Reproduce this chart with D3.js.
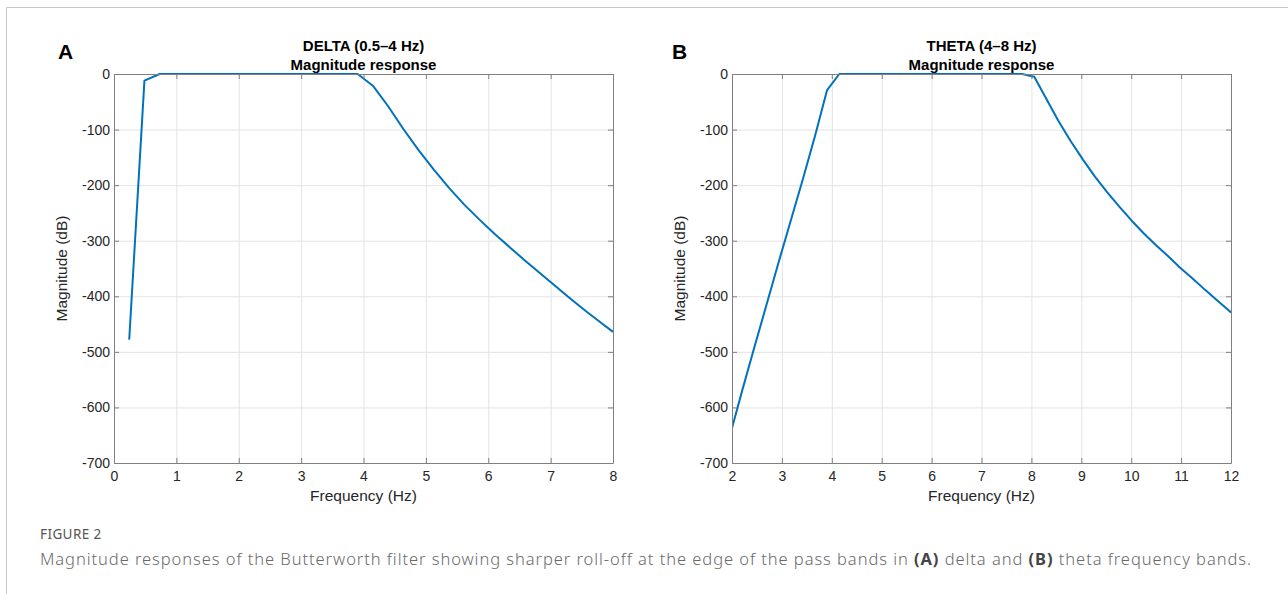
<!DOCTYPE html>
<html>
<head>
<meta charset="utf-8">
<script src="https://cdn.jsdelivr.net/npm/d3@7/dist/d3.min.js"></script>
<style>
  html, body { margin: 0; padding: 0; background: #fff; }
  svg { display: block; }
  .tick text { font-family: "Liberation Sans", Arial, Helvetica, sans-serif; }
</style>
</head>
<body>
<svg id="fig" width="1288" height="594"></svg>
<script>
// Delta band (0.5–4 Hz) magnitude response, frequency in Hz and magnitude in dB
const freqA = [0.244, 0.488, 0.732, 3.906, 4.150, 4.395, 4.639, 4.883, 5.127, 5.371, 5.615, 5.859, 6.104, 6.348, 6.592, 6.836, 7.080, 7.324, 7.568, 7.813, 8.0];
const magA  = [-478, -12, 0, 0, -21, -58, -99, -137, -172, -205, -235, -262, -288, -312, -336, -359, -382, -405, -427, -448, -464];

// Theta band (4–8 Hz) magnitude response
const freqB = [2.0, 2.197, 2.441, 2.686, 2.930, 3.174, 3.418, 3.662, 3.906, 4.150, 7.813, 8.057, 8.301, 8.545, 8.789, 9.033, 9.277, 9.521, 9.766, 10.010, 10.254, 10.498, 10.742, 10.986, 11.230, 11.475, 11.719, 11.963, 12.0];
const magB  = [-637, -572, -494, -417, -340, -265, -190, -112, -29, 0, 0, -5, -45, -85, -121, -154, -185, -213, -239, -264, -287, -308, -328, -349, -368, -388, -407, -426, -429];

// Axis ticks
const xTicksA = [0, 1, 2, 3, 4, 5, 6, 7, 8];
const xTicksB = [2, 3, 4, 5, 6, 7, 8, 9, 10, 11, 12];
const yTicks  = [0, -100, -200, -300, -400, -500, -600, -700];

const panelLetters = ["A", "B"];
const titles = [["DELTA (0.5–4 Hz)", "Magnitude response"], ["THETA (4–8 Hz)", "Magnitude response"]];
const xLabel = "Frequency (Hz)";
const yLabel = "Magnitude (dB)";

const svg = d3.select("#fig");
const FONT = '"Liberation Sans", Arial, Helvetica, sans-serif';
const AXIS_COLOR = "#808080";
const GRID_COLOR = "#e3e3e3";
const LINE_COLOR = "#0072BD";
const TEXT_COLOR = "#262626";

// Outer frame (top and left rules)
svg.append("line").attr("x1", 6.5).attr("x2", 1288).attr("y1", 7.5).attr("y2", 7.5)
  .attr("stroke", "#c8c8c8").attr("stroke-width", 1);
svg.append("line").attr("x1", 6.5).attr("x2", 6.5).attr("y1", 7.5).attr("y2", 594)
  .attr("stroke", "#c8c8c8").attr("stroke-width", 1);

const panels = [
  { left: 114, right: 613, xDomain: [0, 8], xTicks: xTicksA, freq: freqA, mag: magA, letterX: 58, yLabelX: 67 },
  { left: 732, right: 1231, xDomain: [2, 12], xTicks: xTicksB, freq: freqB, mag: magB, letterX: 672, yLabelX: 685 }
];
const plotTop = 74, plotBottom = 463;

panels.forEach((p, i) => {
  const x = d3.scaleLinear().domain(p.xDomain).range([p.left, p.right]);
  const y = d3.scaleLinear().domain([-700, 0]).range([plotBottom, plotTop]);
  const g = svg.append("g");
  const w = p.right - p.left, h = plotBottom - plotTop;

  // grid
  g.append("g").attr("transform", `translate(0,${plotBottom})`)
    .call(d3.axisBottom(x).tickValues(p.xTicks).tickSize(-h).tickFormat(""))
    .call(s => s.select(".domain").remove())
    .call(s => s.selectAll("line").attr("stroke", GRID_COLOR));
  g.append("g").attr("transform", `translate(${p.left},0)`)
    .call(d3.axisLeft(y).tickValues(yTicks).tickSize(-w).tickFormat(""))
    .call(s => s.select(".domain").remove())
    .call(s => s.selectAll("line").attr("stroke", GRID_COLOR));

  // clip region for the response curve
  const clipId = "clip" + i;
  svg.append("clipPath").attr("id", clipId).append("rect")
    .attr("x", p.left).attr("y", plotTop - 1).attr("width", w).attr("height", h + 2);

  const pts = p.freq.map((f, k) => [f, p.mag[k]]);
  g.append("path").datum(pts)
    .attr("clip-path", `url(#${clipId})`)
    .attr("fill", "none").attr("stroke", LINE_COLOR).attr("stroke-width", 2)
    .attr("stroke-linejoin", "round")
    .attr("d", d3.line().x(d => x(d[0])).y(d => y(d[1])));

  // axes with inward ticks on all four sides
  const styleAxis = s => {
    s.select(".domain").attr("stroke", AXIS_COLOR);
    s.selectAll(".tick line").attr("stroke", AXIS_COLOR);
    s.selectAll(".tick text").attr("fill", TEXT_COLOR).style("font-size", "14px");
  };
  g.append("g").attr("transform", `translate(0,${plotBottom})`)
    .call(d3.axisBottom(x).tickValues(p.xTicks).tickSizeInner(-5).tickSizeOuter(0).tickPadding(8).tickFormat(d3.format("d")))
    .call(styleAxis);
  g.append("g").attr("transform", `translate(0,${plotTop})`)
    .call(d3.axisTop(x).tickValues(p.xTicks).tickSizeInner(-5).tickSizeOuter(0).tickFormat(""))
    .call(styleAxis);
  g.append("g").attr("transform", `translate(${p.left},0)`)
    .call(d3.axisLeft(y).tickValues(yTicks).tickSizeInner(-5).tickSizeOuter(0).tickPadding(4).tickFormat(d => String(d)))
    .call(styleAxis);
  g.append("g").attr("transform", `translate(${p.right},0)`)
    .call(d3.axisRight(y).tickValues(yTicks).tickSizeInner(-5).tickSizeOuter(0).tickFormat(""))
    .call(styleAxis);

  // axis labels
  const cx = (p.left + p.right) / 2;
  g.append("text").attr("x", cx).attr("y", 501).attr("text-anchor", "middle")
    .attr("font-family", FONT).attr("font-size", 15.5).attr("fill", TEXT_COLOR).text(xLabel);
  g.append("text").attr("transform", `translate(${p.yLabelX},${(plotTop + plotBottom) / 2}) rotate(-90)`)
    .attr("text-anchor", "middle").attr("font-family", FONT).attr("font-size", 15.5)
    .attr("fill", TEXT_COLOR).text(yLabel);

  // titles
  g.append("text").attr("x", cx).attr("y", 51).attr("text-anchor", "middle")
    .attr("font-family", FONT).attr("font-size", 15).attr("font-weight", "bold")
    .attr("fill", "#000").text(titles[i][0]);
  g.append("text").attr("x", cx).attr("y", 70).attr("text-anchor", "middle")
    .attr("font-family", FONT).attr("font-size", 15).attr("font-weight", "bold")
    .attr("fill", "#000").text(titles[i][1]);

  // panel letter
  g.append("text").attr("x", p.letterX).attr("y", 59)
    .attr("font-family", FONT).attr("font-size", 21).attr("font-weight", "bold")
    .attr("fill", "#000").text(panelLetters[i]);
});

// Caption
const CAP_FONT = '"Noto Sans", "Open Sans", sans-serif';
svg.append("text").attr("x", 40).attr("y", 539)
  .attr("font-family", CAP_FONT).attr("font-size", 13.5).attr("letter-spacing", 0.4)
  .attr("fill", "#555").text("FIGURE 2");

const cap = svg.append("text").attr("x", 40).attr("y", 565)
  .attr("font-family", CAP_FONT).attr("font-size", 16.5).attr("font-weight", 300)
  .attr("fill", "#6a6a6a");
const capParts = [
  ["Magnitude responses of the Butterworth filter showing sharper roll-off at the edge of the pass bands in ", false],
  ["(A)", true],
  [" delta and ", false],
  ["(B)", true],
  [" theta frequency bands.", false]
];
capParts.forEach(([t, b]) => {
  cap.append("tspan").attr("font-weight", b ? "bold" : null)
    .attr("fill", b ? "#444" : null).text(t);
});
// spread the caption across its line width
const capTarget = 1212;
const capLen = cap.node().getComputedTextLength();
const nChars = capParts.map(d => d[0]).join("").length;
cap.attr("letter-spacing", ((capTarget - capLen) / nChars).toFixed(3));
</script>
</body>
</html>
